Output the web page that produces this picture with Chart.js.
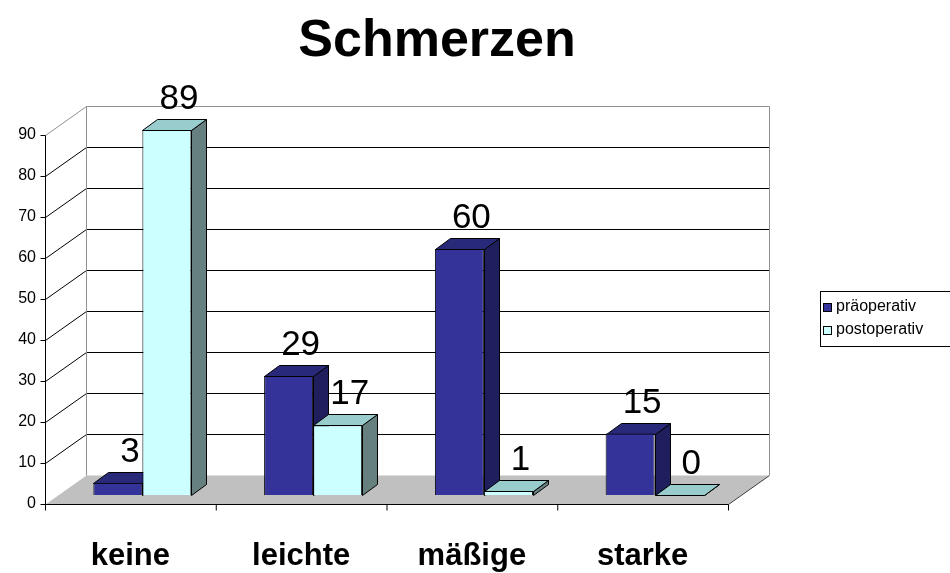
<!DOCTYPE html>
<html>
<head>
<meta charset="utf-8">
<script src="https://cdn.jsdelivr.net/npm/chart.js@4"></script>
<style>
  body { margin: 0; background: #fff; }
  #wrap { width: 950px; height: 573px; position: relative; }
</style>
</head>
<body>
<div id="wrap"><canvas id="schmerzen"></canvas></div>
<script>
// Schmerzen prä-/postoperativ (%)
var categories = ["keine", "leichte", "mäßige", "starke"];
var seriesNames = ["präoperativ", "postoperativ"];
var praeoperativ = [3, 29, 60, 15];
var postoperativ = [89, 17, 1, 0];
var yTicks = [0, 10, 20, 30, 40, 50, 60, 70, 80, 90];

var FONT = '"Liberation Sans", Arial, sans-serif';
// 3D-Versatz: Balkenfront gegenüber Vorderkante, Balkentiefe, Rückwand
var BAR_OFF = { x: 12, y: -9 };
var BAR_DEPTH = { x: 15, y: -11 };
var WALL = { x: 41, y: -29 };

var faceColors = [
  { top: "#29297A", side: "#1F1F5E" },
  { top: "#99CCCC", side: "#668080" }
];

function poly(c, pts, fill, stroke) {
  c.beginPath();
  c.moveTo(pts[0][0], pts[0][1]);
  for (var i = 1; i < pts.length; i++) c.lineTo(pts[i][0], pts[i][1]);
  c.closePath();
  if (fill) { c.fillStyle = fill; c.fill(); }
  if (stroke) { c.strokeStyle = stroke; c.lineWidth = 1; c.stroke(); }
}

var plot3d = {
  id: "plot3d",
  beforeDatasetsDraw: function (chart) {
    var c = chart.ctx, a = chart.chartArea, ys = chart.scales.y;
    // Vorderebene (Achse)
    var fl = a.left - BAR_OFF.x, fr = a.right - BAR_OFF.x;
    var fy = function (v) { return ys.getPixelForValue(v) - BAR_OFF.y; };
    var f0 = fy(0), fTop = fy(yTicks[yTicks.length - 1]);
    c.save();
    c.translate(0.5, 0.5);
    // Boden
    poly(c, [[fl, f0], [fr, f0], [fr + WALL.x, f0 + WALL.y], [fl + WALL.x, f0 + WALL.y]], "#C0C0C0", null);
    c.strokeStyle = "#404040";
    c.beginPath();
    c.moveTo(fr, f0); c.lineTo(fr + WALL.x, f0 + WALL.y);
    c.stroke();
    // Gitternetz Rückwand + Seitenwand
    yTicks.forEach(function (v, i) {
      if (v === 0) return;
      var y = fy(v);
      var last = i === yTicks.length - 1;
      c.strokeStyle = last ? "#909090" : "#000";
      c.beginPath();
      c.moveTo(fl, y);
      c.lineTo(fl + WALL.x, y + WALL.y);
      c.lineTo(fr + WALL.x, y + WALL.y);
      c.stroke();
    });
    // Wandkanten
    c.strokeStyle = "#909090";
    c.beginPath();
    c.moveTo(fl + WALL.x, fTop + WALL.y); c.lineTo(fl + WALL.x, f0 + WALL.y);
    c.moveTo(fr + WALL.x, fTop + WALL.y); c.lineTo(fr + WALL.x, f0 + WALL.y);
    c.stroke();
    // Achsen vorn
    c.strokeStyle = "#000";
    c.beginPath();
    c.moveTo(fl, fTop); c.lineTo(fl, f0); c.lineTo(fr, f0);
    yTicks.forEach(function (v) { var y = fy(v); c.moveTo(fl - 5, y); c.lineTo(fl, y); });
    var xs = chart.scales.x, half = (a.right - a.left) / categories.length / 2;
    for (var k = 0; k <= categories.length; k++) {
      var x = k < categories.length ? xs.getPixelForValue(k) - half - BAR_OFF.x : fr;
      c.moveTo(x, f0); c.lineTo(x, f0 + 6);
    }
    c.stroke();
    c.restore();
    c.save();
    c.fillStyle = "#000";
    c.font = "16px " + FONT;
    c.textAlign = "right";
    c.textBaseline = "middle";
    yTicks.forEach(function (v) { c.fillText(String(v), fl - 9, fy(v)); });
    c.restore();
    // Seiten- und Deckflächen der Säulen
    c.save();
    c.translate(0.5, 0.5);
    for (var i = 0; i < categories.length; i++) {
      chart.data.datasets.forEach(function (ds, d) {
        var bar = chart.getDatasetMeta(d).data[i];
        var p = bar.getProps(["x", "y", "base", "width"], true);
        var l = Math.round(p.x - p.width / 2), r = Math.round(p.x + p.width / 2);
        var t = Math.round(p.y), b = Math.round(p.base);
        poly(c, [[r, t], [r + BAR_DEPTH.x, t + BAR_DEPTH.y], [r + BAR_DEPTH.x, b + BAR_DEPTH.y], [r, b]], faceColors[d].side, "#000");
        poly(c, [[l, t], [l + BAR_DEPTH.x, t + BAR_DEPTH.y], [r + BAR_DEPTH.x, t + BAR_DEPTH.y], [r, t]], faceColors[d].top, "#000");
      });
    }
    c.restore();
  },
  afterDatasetsDraw: function (chart) {
    var c = chart.ctx, a = chart.chartArea, xs = chart.scales.x;
    c.save();
    c.fillStyle = "#000";
    // Datenbeschriftung
    c.font = "35px " + FONT;
    c.textAlign = "center";
    c.textBaseline = "alphabetic";
    chart.data.datasets.forEach(function (ds, d) {
      chart.getDatasetMeta(d).data.forEach(function (bar, i) {
        c.fillText(String(ds.data[i]), bar.x + 12, bar.y - 21);
      });
    });
    // Kategorien
    c.font = "bold 31px " + FONT;
    categories.forEach(function (cat, i) {
      c.fillText(cat, xs.getPixelForValue(i) - BAR_OFF.x, 565);
    });
    // Titel
    c.font = "bold 52px " + FONT;
    c.fillText("Schmerzen", 437, 56);
    // Legende
    var lx = 820, ly = 291;
    c.strokeStyle = "#000";
    c.lineWidth = 1;
    c.strokeRect(lx + 0.5, ly + 0.5, 140, 55);
    c.font = "16px " + FONT;
    c.textAlign = "left";
    c.textBaseline = "middle";
    chart.data.datasets.forEach(function (ds, d) {
      var y = ly + 16 + d * 23;
      c.fillStyle = ds.backgroundColor;
      c.fillRect(lx + 3, y - 4, 9, 9);
      c.strokeRect(lx + 3.5, y - 3.5, 8, 8);
      c.fillStyle = "#000";
      c.fillText(ds.label, lx + 16, y);
    });
    c.restore();
  }
};

var ctx = document.getElementById("schmerzen");
var chart = new Chart(ctx, {
  type: "bar",
  data: {
    labels: categories,
    datasets: [
      { label: seriesNames[0], data: praeoperativ, backgroundColor: "#333399", borderColor: "#000", borderWidth: 1 },
      { label: seriesNames[1], data: postoperativ, backgroundColor: "#CCFFFF", borderColor: "#000", borderWidth: 1 }
    ]
  },
  options: {
    responsive: true,
    maintainAspectRatio: false,
    animation: false,
    layout: { padding: { left: 57, top: 126, right: 210, bottom: 78 } },
    datasets: { bar: { categoryPercentage: 0.574, barPercentage: 1.0 } },
    scales: {
      x: { display: false, grid: { display: false } },
      y: { display: false, min: 0, max: 90, grid: { display: false } }
    },
    plugins: {
      legend: { display: false },
      title: { display: false },
      tooltip: { enabled: false }
    }
  },
  plugins: [plot3d]
});
</script>
</body>
</html>
